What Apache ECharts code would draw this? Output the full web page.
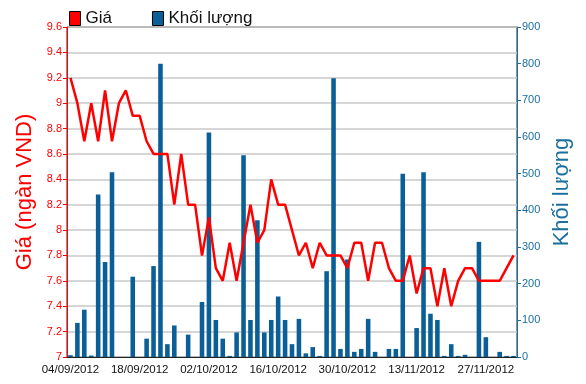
<!DOCTYPE html>
<html>
<head>
<meta charset="utf-8">
<script src="https://cdn.jsdelivr.net/npm/echarts@6/dist/echarts.min.js"></script>
<style>html,body{margin:0;padding:0;background:#fff}#c{width:586px;height:384px}</style>
</head>
<body>
<div id="c"></div>
<script>
var dates = [
 '04/09/2012','05/09/2012','06/09/2012','07/09/2012','10/09/2012','11/09/2012','12/09/2012','13/09/2012','14/09/2012','17/09/2012',
 '18/09/2012','19/09/2012','20/09/2012','21/09/2012','24/09/2012','25/09/2012','26/09/2012','27/09/2012','28/09/2012','01/10/2012',
 '02/10/2012','03/10/2012','04/10/2012','05/10/2012','08/10/2012','09/10/2012','10/10/2012','11/10/2012','12/10/2012','15/10/2012',
 '16/10/2012','17/10/2012','18/10/2012','19/10/2012','22/10/2012','23/10/2012','24/10/2012','25/10/2012','26/10/2012','29/10/2012',
 '30/10/2012','31/10/2012','01/11/2012','02/11/2012','05/11/2012','06/11/2012','07/11/2012','08/11/2012','09/11/2012','12/11/2012',
 '13/11/2012','14/11/2012','15/11/2012','16/11/2012','19/11/2012','20/11/2012','21/11/2012','22/11/2012','23/11/2012','26/11/2012',
 '27/11/2012','28/11/2012','29/11/2012','30/11/2012','03/12/2012'
];
var price = [
 9.2, 9.0, 8.7, 9.0, 8.7, 9.1, 8.7, 9.0, 9.1, 8.9,
 8.9, 8.7, 8.6, 8.6, 8.6, 8.2, 8.6, 8.2, 8.2, 7.8,
 8.1, 7.7, 7.6, 7.9, 7.6, 7.9, 8.2, 7.9, 8.0, 8.4,
 8.2, 8.2, 8.0, 7.8, 7.9, 7.7, 7.9, 7.8, 7.8, 7.8,
 7.7, 7.9, 7.9, 7.6, 7.9, 7.9, 7.7, 7.6, 7.6, 7.8,
 7.5, 7.7, 7.7, 7.4, 7.7, 7.4, 7.6, 7.7, 7.7, 7.6,
 7.6, 7.6, 7.6, 7.7, 7.8
];
var volume = [
 5, 93, 129, 4, 443, 259, 504, 0, 0, 219,
 0, 50, 248, 800, 35, 86, 0, 61, 0, 150,
 612, 101, 50, 3, 67, 550, 101, 373, 67, 101,
 165, 101, 35, 104, 10, 27, 3, 234, 760, 22,
 266, 14, 22, 104, 14, 0, 22, 22, 500, 0,
 79, 504, 118, 101, 3, 35, 3, 6, 0, 314,
 54, 0, 14, 3, 3
];
var priceTicks = {min: 7, max: 9.6, interval: 0.2};
var volumeTicks = {min: 0, max: 900, interval: 100};

var RED = '#ff0000', BLUE = '#0b5f97', AXBLUE = '#1a6f9e';
var chart = echarts.init(document.getElementById('c'), null, {renderer: 'canvas'});
chart.setOption({
  animation: false,
  textStyle: {fontFamily: 'Liberation Sans Narrow, Arial Narrow, Liberation Sans, sans-serif'},
  legend: {
    left: 64, top: 5, itemWidth: 11, itemHeight: 14, itemGap: 40,
    icon: 'rect',
    textStyle: {fontSize: 17, color: '#111', fontFamily: 'Liberation Sans Narrow, sans-serif'},
    data: [
      {name: 'Giá', itemStyle: {color: RED, borderColor: '#000', borderWidth: 1}},
      {name: 'Khối lượng', itemStyle: {color: BLUE, borderColor: '#000', borderWidth: 1}}
    ]
  },
  grid: {left: 67, right: 69, top: 27, bottom: 27, show: true, borderColor: '#222', borderWidth: 1},
  xAxis: {
    type: 'category', data: dates, boundaryGap: true,
    axisLine: {lineStyle: {color: '#222'}},
    axisTick: {alignWithLabel: true, interval: 9, length: 5, lineStyle: {color: '#222'}},
    axisLabel: {interval: 9, color: '#111', fontSize: 11.5, margin: 7},
    splitLine: {show: false}
  },
  yAxis: [
    {
      type: 'value', min: priceTicks.min, max: priceTicks.max, interval: priceTicks.interval,
      position: 'left',
      name: 'Giá (ngàn VND)', nameLocation: 'middle', nameGap: 25, nameRotate: 90,
      nameTextStyle: {color: RED, fontSize: 22, fontFamily: 'Liberation Sans, sans-serif'},
      axisLine: {show: true, lineStyle: {color: RED}},
      axisTick: {show: true, length: 4, lineStyle: {color: RED}},
      axisLabel: {color: RED, fontSize: 11, margin: 5},
      splitLine: {show: true, lineStyle: {color: '#c8c8c8', width: 1.5}}
    },
    {
      type: 'value', min: volumeTicks.min, max: volumeTicks.max, interval: volumeTicks.interval,
      position: 'right',
      name: 'Khối lượng', nameLocation: 'middle', nameGap: 34, nameRotate: 90,
      nameTextStyle: {color: AXBLUE, fontSize: 22, fontFamily: 'Liberation Sans, sans-serif'},
      axisLine: {show: true, lineStyle: {color: AXBLUE}},
      axisTick: {show: true, length: 4, lineStyle: {color: AXBLUE}},
      axisLabel: {color: AXBLUE, fontSize: 11, margin: 5},
      splitLine: {show: false}
    }
  ],
  series: [
    {
      name: 'Khối lượng', type: 'bar', yAxisIndex: 1, data: volume,
      barWidth: '66%', itemStyle: {color: BLUE}, z: 2
    },
    {
      name: 'Giá', type: 'line', yAxisIndex: 0, data: price,
      showSymbol: false, symbol: 'none',
      lineStyle: {color: RED, width: 2.5}, itemStyle: {color: RED}, z: 3
    }
  ]
});
</script>
</body>
</html>
